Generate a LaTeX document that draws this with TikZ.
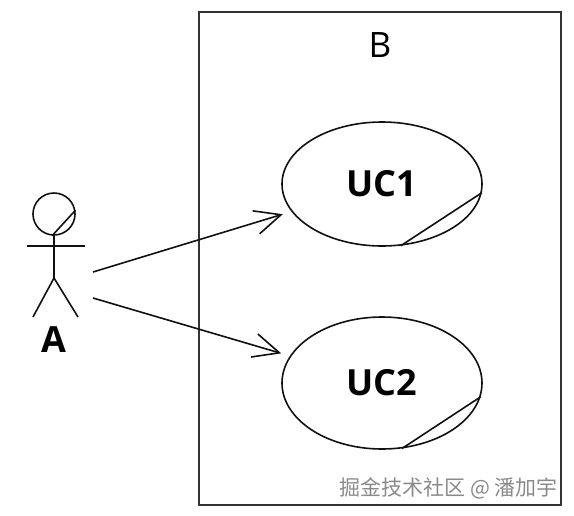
\documentclass[tikz,border=0pt]{standalone}
\usepackage{fontspec}
\setmainfont{Open Sans}
\newfontfamily\cjkfont{Noto Sans CJK SC}
\usepackage{tikz}
\usepackage{xcolor}
\usetikzlibrary{arrows.meta,positioning,shapes.geometric}
\definecolor{ink}{HTML}{111111}
\definecolor{frameink}{HTML}{333333}
\definecolor{markgray}{HTML}{8A8A8A}
\tikzset{
  usecase/.style={ellipse,draw=ink,line width=1.6pt,
                  minimum width=200pt,minimum height=124pt,inner sep=0pt,
                  font=\fontsize{36}{40}\selectfont\bfseries},
  limb/.style={draw=ink,line width=1.6pt},
  assoc/.style={-{Straight Barb[length=26pt,width=24pt]},line width=1.6pt,
                draw=ink,shorten >=9pt},
  sysframe/.style={draw=frameink,line width=2pt,
                   minimum width=362pt,minimum height=493pt,inner sep=0pt},
  watermark/.style={font=\cjkfont\fontsize{21}{24}\selectfont,text=markgray,
                    inner sep=0pt}
}
\begin{document}
\begin{tikzpicture}[x=1pt,y=-1pt]
  \useasboundingbox (0,0) rectangle (574,515);
  % system boundary
  \node[sysframe] (sys) at (380,258.5) {};
  \node[font=\fontsize{35}{40}\selectfont,inner sep=0pt] (sysname) at (380,45) {B};
  % business use cases
  \node[usecase] (uc1) at (382,184) {UC1};
  \node[usecase,minimum height=132pt] (uc2) at (382,383) {UC2};
  \draw[limb] (uc1.-73) -- (uc1.-5);
  \draw[limb] (uc2.-73) -- (uc2.-8);
  % business actor
  \node[circle,draw=ink,line width=1.6pt,minimum size=42pt,inner sep=0pt]
    (head) at (54,214) {};
  \draw[limb] (head.-95) -- (head.10);
  \coordinate (hip) at (54,278);
  \coordinate (lhand) at (27,246);
  \coordinate (rhand) at (85,246);
  \coordinate (lfoot) at (33,317);
  \coordinate (rfoot) at (78,317);
  \draw[limb] (head.south) -- (hip);
  \draw[limb] (lhand) -- (rhand);
  \draw[limb] (lfoot) -- (hip) -- (rfoot);
  \node[font=\fontsize{36}{40}\selectfont\bfseries,inner sep=0pt] (actor) at (54,340) {A};
  % associations
  \coordinate (a1) at (93,272);
  \coordinate (a2) at (93,298);
  \draw[assoc] (a1) -- (uc1);
  \draw[assoc] (a2) -- (uc2);
  \node[watermark,anchor=east] (mark) at (558,488) {掘金技术社区 @ 潘加宇};
\end{tikzpicture}
\end{document}
